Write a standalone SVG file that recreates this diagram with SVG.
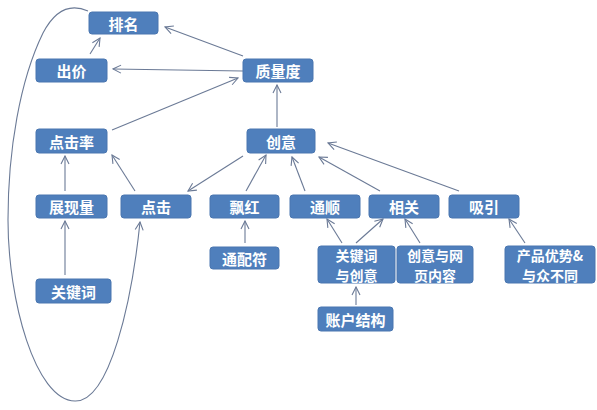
<svg xmlns="http://www.w3.org/2000/svg" width="597" height="410" viewBox="0 0 597 410">
<defs>
<marker id="ar" markerWidth="10" markerHeight="10" refX="9" refY="5" orient="auto" markerUnits="userSpaceOnUse">
<path d="M1,1 L9,5 L1,9" fill="none" stroke="#6b7a96" stroke-width="1.1"/>
</marker>
<style>
.n rect{fill:#4f7fbc;stroke:#4a76b0;stroke-width:1}
.n text{fill:#fff;font-family:"Noto Sans CJK SC","Noto Sans",sans-serif;font-weight:bold;font-size:15px;text-anchor:middle;dominant-baseline:central}
.n text.two{font-size:14px}
.c path{fill:none;stroke:#6b7a96;stroke-width:1.1;marker-end:url(#ar)}
</style>
</defs>
<rect width="597" height="410" fill="#fff"/>
<g id="connectors" class="c">
<path d="M90,54 L100,38"/>
<path d="M243,56 L165,27"/>
<path d="M243,71 L113,69"/>
<path d="M112,130 L238,78"/>
<path d="M277,127 L277,85"/>
<path d="M65,191 L65,156"/>
<path d="M135,191 L112,155"/>
<path d="M243,156 L188,191"/>
<path d="M246,191 L266,155"/>
<path d="M245,243 L245,221"/>
<path d="M65,275 L65,221"/>
<path d="M305,191 L292,157"/>
<path d="M380,191 L319,157"/>
<path d="M459,191 L328,143"/>
<path d="M342,243 L327,219"/>
<path d="M356,243 L383,219"/>
<path d="M420,243 L405,219"/>
<path d="M525,243 L509,219"/>
<path d="M356,305 L356,287"/>
<path d="M88,11 C70,3 55,10 43,33 C20,80 8,150 8,220 C8,300 35,400 75,401 C110,402 132,300 140,222"/>
</g>
<g id="n-paiming" class="n"><rect x="89" y="12" width="69" height="22" rx="3"/><text x="123.5" y="23">排名</text></g>
<g id="n-chujia" class="n"><rect x="36" y="59" width="71" height="23" rx="3"/><text x="71.5" y="70.5">出价</text></g>
<g id="n-zhiliangdu" class="n"><rect x="243" y="59" width="70" height="23" rx="3"/><text x="278" y="70.5">质量度</text></g>
<g id="n-dianjilv" class="n"><rect x="36" y="129" width="71" height="24" rx="3"/><text x="71.5" y="141">点击率</text></g>
<g id="n-chuangyi" class="n"><rect x="247" y="129" width="68" height="24" rx="3"/><text x="281" y="141">创意</text></g>
<g id="n-zhanxianliang" class="n"><rect x="36" y="195" width="71" height="23" rx="3"/><text x="71.5" y="206.5">展现量</text></g>
<g id="n-dianji" class="n"><rect x="121" y="195" width="70" height="23" rx="3"/><text x="156" y="206.5">点击</text></g>
<g id="n-piaohong" class="n"><rect x="210" y="195" width="69" height="23" rx="3"/><text x="244.5" y="206.5">飘红</text></g>
<g id="n-tongshun" class="n"><rect x="290" y="195" width="70" height="23" rx="3"/><text x="325" y="206.5">通顺</text></g>
<g id="n-xiangguan" class="n"><rect x="369" y="195" width="70" height="23" rx="3"/><text x="404" y="206.5">相关</text></g>
<g id="n-xiyin" class="n"><rect x="449" y="195" width="70" height="23" rx="3"/><text x="484" y="206.5">吸引</text></g>
<g id="n-tongpeifu" class="n"><rect x="210" y="247" width="69" height="22" rx="3"/><text x="244.5" y="258">通配符</text></g>
<g id="n-guanjianci" class="n"><rect x="36" y="279" width="75" height="24" rx="3"/><text x="73.5" y="291">关键词</text></g>
<g id="n-gjc-cy" class="n"><rect x="318" y="246" width="77" height="37" rx="3"/><text class="two" x="356.5" y="254.5">关键词</text><text class="two" x="356.5" y="275">与创意</text></g>
<g id="n-cy-wy" class="n"><rect x="397" y="246" width="76" height="37" rx="3"/><text class="two" x="435" y="254.5">创意与网</text><text class="two" x="435" y="275">页内容</text></g>
<g id="n-chanpin" class="n"><rect x="505" y="246" width="90" height="37" rx="3"/><text class="two" x="550" y="254.5">产品优势&amp;</text><text class="two" x="550" y="275">与众不同</text></g>
<g id="n-zhanghu" class="n"><rect x="318" y="307" width="75" height="24" rx="3"/><text x="355.5" y="319">账户结构</text></g>
</svg>
